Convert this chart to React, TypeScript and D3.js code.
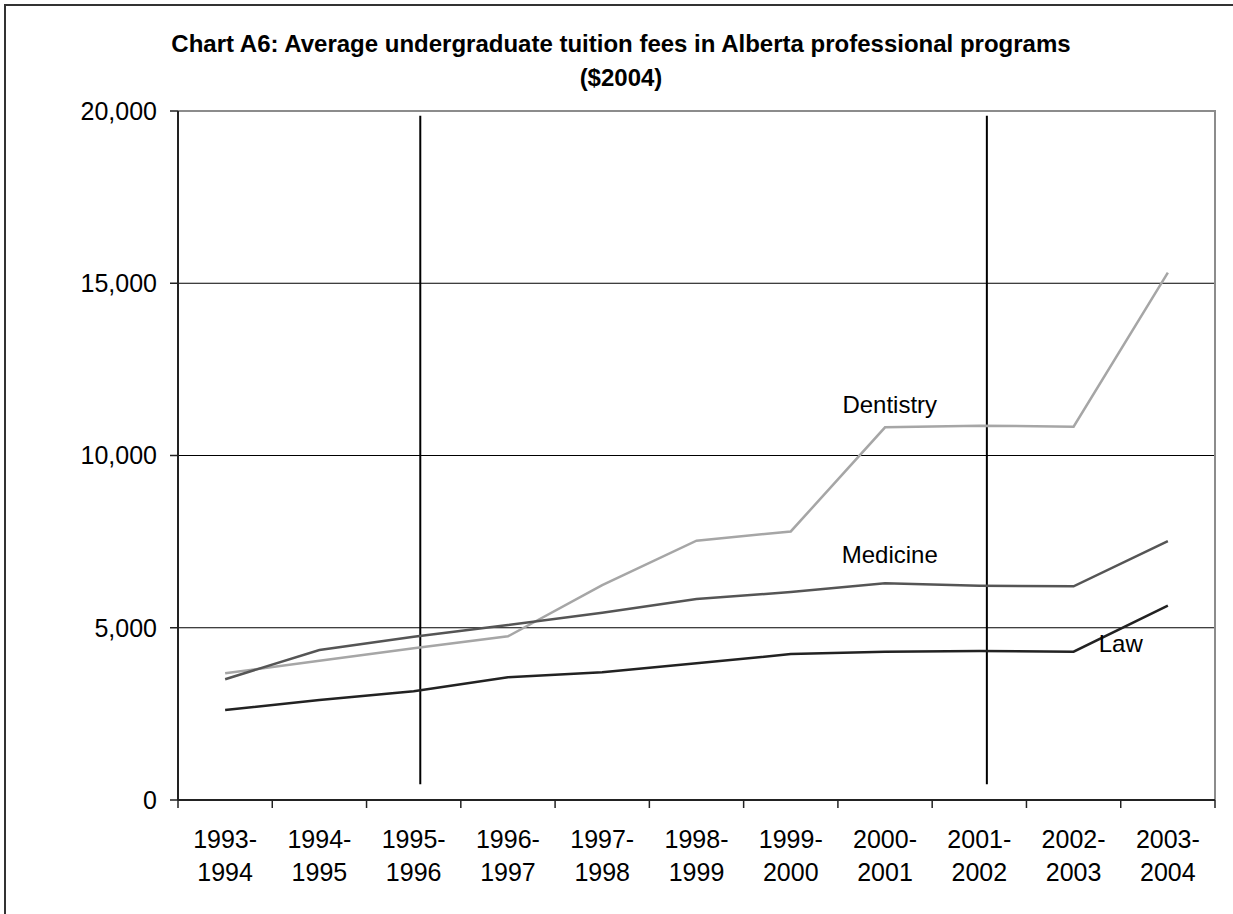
import React, { useRef, useEffect } from 'react';
import * as d3 from 'd3';

const categories = ['1993-1994', '1994-1995', '1995-1996', '1996-1997', '1997-1998', '1998-1999', '1999-2000', '2000-2001', '2001-2002', '2002-2003', '2003-2004'];
const law = [2610, 2900, 3160, 3565, 3710, 3967, 4235, 4305, 4325, 4305, 5640];
const medicine = [3505, 4354, 4741, 5080, 5438, 5834, 6035, 6290, 6222, 6203, 7518];
const dentistry = [3677, 4044, 4403, 4750, 6240, 7527, 7795, 10818, 10866, 10837, 15308];
const yTicks = [0, 5000, 10000, 15000, 20000];
// policy markers: category + position inside band, value range
const markers = [
  { cat: '1995-1996', frac: 0.57, from: 460, to: 19860 },
  { cat: '2001-2002', frac: 0.58, from: 460, to: 19860 },
];
const seriesLabels = [
  { name: 'Dentistry', cat: '2000-2001', frac: 0.55, value: 11230 },
  { name: 'Medicine', cat: '2000-2001', frac: 0.55, value: 6880 },
  { name: 'Law', cat: '2002-2003', frac: 1.0, value: 4290 },
];

const App = () => {
  const chartRef = useRef(null);

  useEffect(() => {
    const W = 1233, H = 914;
    const margin = { top: 111, right: 18, bottom: 114, left: 178 };
    const font = 'Liberation Sans, Arial, Helvetica, sans-serif';

    const svg = d3.select(chartRef.current)
      .attr('width', W)
      .attr('height', H)
      .html('');

    svg.append('rect').attr('width', W).attr('height', H).attr('fill', '#fff');

    // outer frame (runs off the right and bottom)
    svg.append('rect')
      .attr('x', 5).attr('y', 5)
      .attr('width', W + 20).attr('height', H + 20)
      .attr('fill', 'none').attr('stroke', '#333').attr('stroke-width', 2);

    const xScale = d3.scaleBand()
      .domain(categories)
      .range([margin.left, W - margin.right])
      .padding(0);

    const yScale = d3.scaleLinear()
      .domain([0, 20000])
      .range([H - margin.bottom, margin.top]);

    const bw = xScale.bandwidth();
    const cx = (c) => xScale(c) + bw / 2;

    // title
    const title = svg.append('text')
      .attr('text-anchor', 'middle')
      .attr('font-family', font)
      .attr('font-weight', 'bold')
      .attr('font-size', '24px')
      .attr('fill', '#000');
    title.append('tspan').attr('x', 621).attr('y', 52)
      .text('Chart A6: Average undergraduate tuition fees in Alberta professional programs');
    title.append('tspan').attr('x', 621).attr('y', 86).text('($2004)');

    // gridlines
    svg.append('g')
      .selectAll('line')
      .data(yTicks.filter(d => d > 0 && d < 20000))
      .enter().append('line')
      .attr('x1', margin.left).attr('x2', W - margin.right)
      .attr('y1', d => yScale(d)).attr('y2', d => yScale(d))
      .attr('stroke', '#000').attr('stroke-width', 1);

    // plot frame top/right
    svg.append('path')
      .attr('d', `M${margin.left},${yScale(20000)}H${W - margin.right}V${yScale(0)}`)
      .attr('fill', 'none').attr('stroke', '#8c8c8c').attr('stroke-width', 2);

    // x axis
    const xAxis = svg.append('g')
      .attr('transform', `translate(0,${yScale(0)})`);
    xAxis.append('line')
      .attr('x1', margin.left).attr('x2', W - margin.right)
      .attr('stroke', '#222').attr('stroke-width', 2);
    const bounds = categories.map(c => xScale(c)).concat([W - margin.right]);
    xAxis.selectAll('.xt')
      .data(bounds)
      .enter().append('line')
      .attr('x1', d => d).attr('x2', d => d)
      .attr('y1', 0).attr('y2', 8)
      .attr('stroke', '#222').attr('stroke-width', 1.5);
    const xl = xAxis.selectAll('.xl')
      .data(categories)
      .enter().append('text')
      .attr('text-anchor', 'middle')
      .attr('font-family', font)
      .attr('font-size', '25px')
      .attr('fill', '#000');
    xl.append('tspan').attr('x', d => cx(d)).attr('y', 48).text(d => d.split('-')[0] + '-');
    xl.append('tspan').attr('x', d => cx(d)).attr('y', 81).text(d => d.split('-')[1]);

    // y axis
    const yAxis = svg.append('g');
    yAxis.append('line')
      .attr('x1', margin.left).attr('x2', margin.left)
      .attr('y1', yScale(20000)).attr('y2', yScale(0))
      .attr('stroke', '#222').attr('stroke-width', 2);
    yAxis.selectAll('.yt')
      .data(yTicks)
      .enter().append('line')
      .attr('x1', margin.left - 8).attr('x2', margin.left)
      .attr('y1', d => yScale(d)).attr('y2', d => yScale(d))
      .attr('stroke', '#222').attr('stroke-width', 1.5);
    yAxis.selectAll('.yl')
      .data(yTicks)
      .enter().append('text')
      .attr('x', margin.left - 21)
      .attr('y', d => yScale(d))
      .attr('dy', '0.35em')
      .attr('text-anchor', 'end')
      .attr('font-family', font)
      .attr('font-size', '25px')
      .attr('fill', '#000')
      .text(d => d3.format(',')(d));

    // vertical markers
    svg.selectAll('.marker')
      .data(markers)
      .enter().append('line')
      .attr('x1', d => xScale(d.cat) + bw * d.frac)
      .attr('x2', d => xScale(d.cat) + bw * d.frac)
      .attr('y1', d => yScale(d.to)).attr('y2', d => yScale(d.from))
      .attr('stroke', '#000').attr('stroke-width', 2);

    // series lines
    const series = [
      { name: 'Dentistry', values: dentistry, color: '#a6a6a6' },
      { name: 'Medicine', values: medicine, color: '#555555' },
      { name: 'Law', values: law, color: '#222222' },
    ];
    const line = d3.line()
      .x((d, i) => cx(categories[i]))
      .y(d => yScale(d));
    svg.selectAll('.series')
      .data(series)
      .enter().append('path')
      .attr('d', d => line(d.values))
      .attr('fill', 'none')
      .attr('stroke', d => d.color)
      .attr('stroke-width', 2.5)
      .attr('stroke-linejoin', 'miter');

    // series labels
    svg.selectAll('.slabel')
      .data(seriesLabels)
      .enter().append('text')
      .attr('x', d => xScale(d.cat) + bw * d.frac)
      .attr('y', d => yScale(d.value))
      .attr('text-anchor', 'middle')
      .attr('font-family', font)
      .attr('font-size', '24px')
      .attr('fill', '#000')
      .text(d => d.name);
  }, []);

  return (
    <div style={{ position: 'absolute', left: 0, top: 0 }}>
      <svg ref={chartRef} style={{ display: 'block' }}></svg>
    </div>
  );
};

export default App;
